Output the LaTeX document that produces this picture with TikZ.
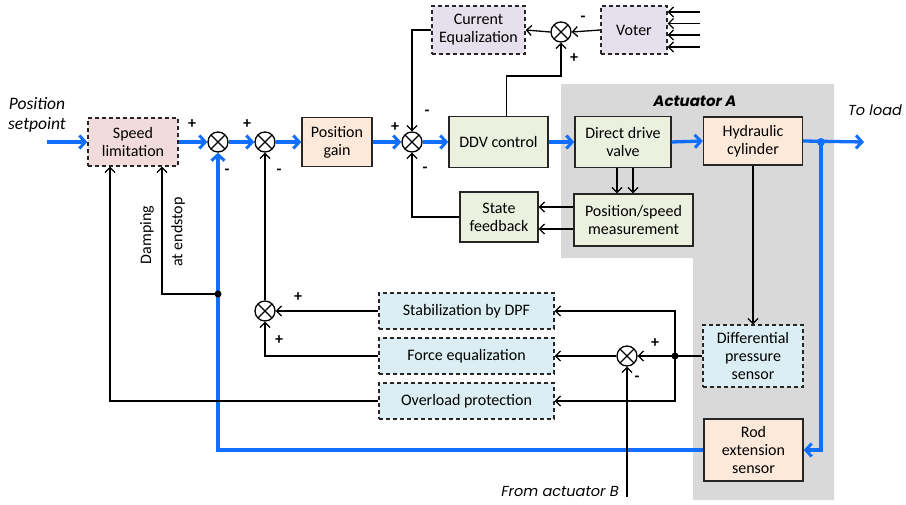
\documentclass[tikz,border=0pt]{standalone}
\usepackage{fontspec}
\setmainfont{Carlito}
\newfontfamily\gothic{Poppins}
\usetikzlibrary{arrows.meta,calc}

\definecolor{sig}{RGB}{18,110,255}
\definecolor{actgray}{RGB}{217,217,217}
\definecolor{fpink}{RGB}{242,220,219}
\definecolor{fpeach}{RGB}{253,233,217}
\definecolor{fgreen}{RGB}{235,241,222}
\definecolor{flav}{RGB}{229,224,236}
\definecolor{fblue}{RGB}{219,238,244}

\tikzset{
  blk/.style={draw=black!85, line width=1.3pt, align=center, inner sep=2pt,
    font=\fontsize{16}{18}\selectfont},
  solidbox/.style={blk},
  dashbox/.style={blk, dashed, dash pattern=on 4pt off 3pt},
  sumnode/.style={circle, draw=black, line width=1.3pt, fill=white,
    minimum size=20pt, inner sep=0pt,
    path picture={\draw[line width=1.1pt]
      (path picture bounding box.north west) -- (path picture bounding box.south east)
      (path picture bounding box.north east) -- (path picture bounding box.south west);}},
  wire/.style={line width=1.3pt, draw=black},
  arr/.style={wire, -{Straight Barb[length=5pt,width=10pt,line width=1.3pt]}},
  bwire/.style={line width=3.3pt, draw=sig},
  barr/.style={bwire, -{Straight Barb[length=6pt,width=13pt,line width=3pt]}},
  sgn/.style={font=\fontsize{16}{16}\selectfont\bfseries, inner sep=0pt},
  lbl/.style={font=\gothic\itshape\fontsize{14.5}{17}\selectfont, inner sep=0pt, align=center},
}

\begin{document}
\begin{tikzpicture}[x=1pt,y=-1pt]
\useasboundingbox (0,0) rectangle (906,504);

% actuator A region
\fill[actgray] (561,84) -- (834,84) -- (834,500) -- (693,500) -- (693,258) -- (561,258) -- cycle;
\node[font=\gothic\bfseries\itshape\fontsize{15}{17}\selectfont] (actA) at (695,101) {Actuator A};

% blocks
\node[dashbox, fill=fpink, minimum width=90pt, minimum height=48pt] (sl) at (133,142) {Speed\\limitation};
\node[solidbox, fill=fpeach, minimum width=70pt, minimum height=49pt] (pg) at (337,142) {Position\\gain};
\node[solidbox, fill=fgreen, minimum width=99pt, minimum height=51pt] (ddv) at (498.5,142) {DDV control};
\node[solidbox, fill=fgreen, minimum width=96pt, minimum height=51pt] (valve) at (623,142) {Direct drive\\valve};
\node[solidbox, fill=fpeach, minimum width=99pt, minimum height=48pt] (cyl) at (753,141) {Hydraulic\\cylinder};
\node[solidbox, fill=fgreen, minimum width=119pt, minimum height=52pt] (pos) at (633.5,220) {Position/speed\\measurement};
\node[solidbox, fill=fgreen, minimum width=78pt, minimum height=50pt] (sf) at (499,217) {State\\feedback};
\node[dashbox, fill=flav, minimum width=93pt, minimum height=48pt] (ce) at (478.5,30) {Current\\Equalization};
\node[dashbox, fill=flav, minimum width=66pt, minimum height=48pt] (voter) at (634,30) {Voter};
\node[dashbox, fill=fblue, minimum width=175pt, minimum height=36pt] (stab) at (466.5,311) {Stabilization by DPF};
\node[dashbox, fill=fblue, minimum width=175pt, minimum height=36pt] (feq) at (466.5,356) {Force equalization};
\node[dashbox, fill=fblue, minimum width=175pt, minimum height=36pt] (ovl) at (466.5,401) {Overload protection};
\node[dashbox, fill=fblue, minimum width=100pt, minimum height=62pt] (dps) at (753,356) {Differential\\pressure\\sensor};
\node[solidbox, fill=fpeach, minimum width=99pt, minimum height=62pt] (rod) at (753.5,450) {Rod\\extension\\sensor};

% summing junctions
\node[sumnode] (s1) at (218,142) {};
\node[sumnode] (s2) at (265,142) {};
\node[sumnode] (s3) at (412,142) {};
\node[sumnode] (s4) at (561,32) {};
\node[sumnode] (s5) at (265,311) {};
\node[sumnode] (s6) at (627,356) {};

% free ends and branch points
\coordinate (in) at (47,142);
\coordinate (load) at (864,142);
\coordinate (tap) at (821,142);
\coordinate (damp) at (218,294);
\coordinate (dj) at (675,356);
\coordinate (fromB) at (627,497);
\coordinate (v1) at (700,12);
\coordinate (v2) at (700,23.5);
\coordinate (v3) at (700,35);
\coordinate (v4) at (700,47);

% forward path
\draw[barr] (in) -- (sl.west);
\draw[barr] (sl.east) -- (s1.west);
\draw[barr] (s1.east) -- (s2.west);
\draw[barr] (s2.east) -- (pg.west);
\draw[barr] (pg.east) -- (s3.west);
\draw[barr] (s3.east) -- (ddv.west);
\draw[barr] (ddv.east) -- (valve.west);
\draw[barr] (valve.east) -- (cyl.west);
\draw[barr] (cyl.east) -- (load);

% position feedback loop
\draw[barr] (tap) |- (rod.east);
\draw[barr] (rod.west) -| (s1.south);
\fill[sig] (tap) circle (4pt);

% damping at endstop and overload protection
\draw[arr] (damp) -| ([xshift=29pt]sl.south);
\fill (damp) circle (3.5pt);
\draw[arr] (ovl.west) -| ([xshift=-23pt]sl.south);

% pressure feedback paths
\draw[arr] (s5.north) -- (s2.south);
\draw[arr] (stab.west) -- (s5.east);
\draw[arr] (feq.west) -| (s5.south);
\draw[wire] (dps.west) -- (dj);
\draw[arr] (dj) -- (s6.east);
\draw[arr] (dj) |- (stab.east);
\draw[arr] (dj) |- (ovl.east);
\fill (dj) circle (3.5pt);
\draw[arr] (s6.west) -- (feq.east);
\draw[arr] (fromB) -- (s6.south);
\draw[arr] (cyl.south) -- (dps.north);

% valve measurement and state feedback
\draw[arr] ([xshift=-6pt]valve.south) -- ([xshift=-6pt]valve.south |- pos.north);
\draw[arr] ([xshift=10pt]valve.south) -- ([xshift=10pt]valve.south |- pos.north);
\draw[arr] ($(pos.west)+(0,-13)$) -- ($(sf.east |- pos.west)+(0,-13)$);
\draw[arr] ($(pos.west)+(0,9)$) -- ($(sf.east |- pos.west)+(0,9)$);
\draw[arr] (sf.west) -| (s3.south);

% current equalization loop
\draw[arr] ([xshift=8pt]ddv.north) -- ++(0,-40) -| (s4.south);
\draw[arr] (voter.west) -- (s4.east);
\draw[arr] (s4.west) -- (ce.east);
\draw[arr] (ce.west) -| (s3.north);
\foreach \v in {v1,v2,v3,v4}
  \draw[arr] (\v) -- (voter.east |- \v);

% signs
\node[sgn] (p1) at (192,124) {+};
\node[sgn] (m1) at (227,172) {-};
\node[sgn] (p2) at (247,124) {+};
\node[sgn] (m2) at (279,172) {-};
\node[sgn] (p3) at (395,127) {+};
\node[sgn] (m3a) at (427,113) {-};
\node[sgn] (m3b) at (425,170) {-};
\node[sgn] (m4) at (583,19) {-};
\node[sgn] (p4) at (574,58) {+};
\node[sgn] (p5a) at (298,297) {+};
\node[sgn] (p5b) at (279,340) {+};
\node[sgn] (p6) at (655,343) {+};
\node[sgn] (m6) at (637,379) {-};

% labels
\node[font=\itshape\fontsize{17.5}{20}\selectfont, align=center, inner sep=0pt] (setp) at (37,115) {Position\\setpoint};
\node[lbl] (tol) at (875,110) {To load};
\node[lbl] (frb) at (560,492) {From actuator B};
\node[font=\fontsize{16}{18}\selectfont, rotate=90, inner sep=0pt] (dmp) at (147,235) {Damping};
\node[font=\fontsize{16}{18}\selectfont, rotate=90, inner sep=0pt] (aes) at (178,232) {at endstop};
\end{tikzpicture}
\end{document}
